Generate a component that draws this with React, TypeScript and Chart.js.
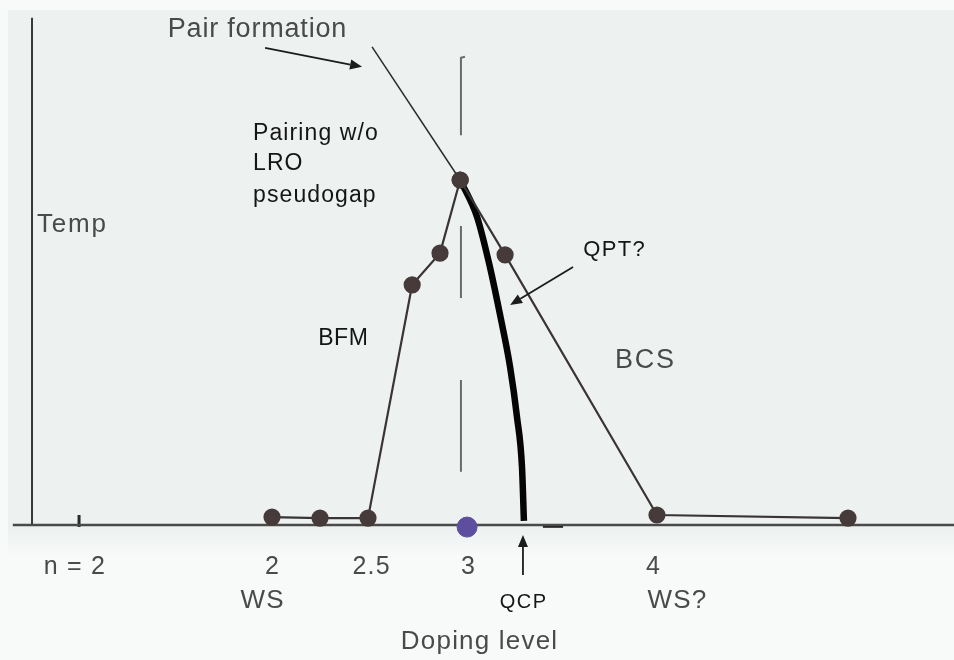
import React, { useEffect, useRef } from "react";
import { Chart, registerables } from "chart.js";

Chart.register(...registerables);

// ---- data (doping level on x, temperature in arbitrary units on y, peak = 100) ----
const leftBranchX = [2.0, 2.25, 2.5, 2.73, 2.875, 2.98];
const leftBranchT = [2.3, 2.0, 2.0, 69.6, 78.8, 100];
const rightBranchX = [2.98, 3.214, 4.005, 5.0];
const rightBranchT = [100, 78.3, 2.9, 2.0];
const qptX = [2.98, 3.068, 3.135, 3.19, 3.24, 3.276, 3.302, 3.312];
const qptT = [100, 89.3, 74.8, 60.3, 45.8, 31.3, 16.8, 1.2];
const pairLineX = [2.521, 2.98];
const pairLineT = [138.6, 100];
const guideX = [3.005, 2.984];
const guideSegments = [
  [135.7, 135.4, 113.0],
  [86.7, 65.8],
  [42.0, 15.4],
];
const qcpDoping = 3.016;
const baseLineX = [0.65, 5.552];
const tempAxisX = 0.75;
const tempAxisTop = 147;
const nTickX = 0.995;
const nTickT = [2.9, -0.6];
const smallDashX = [3.411, 3.516];

// tick labels under the axis
const tickLabels = ["n = 2", "2", "2.5", "3", "4"];
const tickLabelX = [0.97, 2.0, 2.516, 3.021, 3.984];
const tickLabelT = -14.2;
const subLabels = ["WS", "QCP", "WS?"];
const subLabelX = [1.948, 3.307, 4.109];
const subLabelT = -24.1;

// scale extents (doping / temperature units)
const X_MIN = 0.5833;
const X_MAX = 5.552;
const T_MIN = -39.13;
const T_MAX = 152.17;

const pts = (xs: number[], ys: number[]) => xs.map((x, i) => ({ x, y: ys[i] }));

type Label = { text: string; x: number; t: number; align: CanvasTextAlign; font: string; color: string; ls: number };
const GRAY = "#4a4a4a";
const BLACK = "#151515";
const F = "'Liberation Sans', Arial, sans-serif";
const labels: Label[] = [
  { text: "Pair formation", x: 1.922, t: 141.4, align: "center", font: `27px ${F}`, color: GRAY, ls: 0.8 },
  { text: "Pairing w/o", x: 1.901, t: 111.6, align: "left", font: `23px ${F}`, color: BLACK, ls: 1.1 },
  { text: "LRO", x: 1.901, t: 102.9, align: "left", font: `23px ${F}`, color: BLACK, ls: 1.1 },
  { text: "pseudogap", x: 1.901, t: 93.6, align: "left", font: `23px ${F}`, color: BLACK, ls: 1.1 },
  { text: "Temp", x: 0.776, t: 84.9, align: "left", font: `26px ${F}`, color: GRAY, ls: 1.8 },
  { text: "BFM", x: 2.37, t: 52.2, align: "center", font: `23px ${F}`, color: BLACK, ls: 0.5 },
  { text: "QPT?", x: 3.781, t: 78.0, align: "center", font: `22px ${F}`, color: BLACK, ls: 1.4 },
  { text: "BCS", x: 3.786, t: 45.5, align: "left", font: `27px ${F}`, color: GRAY, ls: 1.8 },
  { text: "Doping level", x: 3.078, t: -35.9, align: "center", font: `26px ${F}`, color: GRAY, ls: 1.2 },
];

// arrows: [fromX, fromT, toX, toT]
const arrows = [
  [1.964, 138.3, 2.469, 132.8],
  [3.568, 74.8, 3.24, 63.8],
  [3.307, -14.5, 3.307, -2.9],
];

const annotationPlugin = {
  id: "annotations",
  beforeDraw(chart: any) {
    const { ctx, width, height } = chart;
    ctx.save();
    ctx.fillStyle = "#f8f9f9";
    ctx.fillRect(0, 0, width, height);
    const g = ctx.createLinearGradient(0, 530, 0, 555);
    g.addColorStop(0, "#edf2f1");
    g.addColorStop(1, "#f8f9f9");
    ctx.fillStyle = "#edf2f1";
    ctx.fillRect(8, 10, width - 8, 522);
    ctx.fillStyle = g;
    ctx.fillRect(8, 530, width - 8, 25);
    ctx.restore();
  },
  afterDatasetsDraw(chart: any) {
    const { ctx } = chart;
    const xs = chart.scales.x;
    const ys = chart.scales.y;
    ctx.save();
    // arrows
    ctx.strokeStyle = "#1c1c1c";
    ctx.fillStyle = "#1c1c1c";
    ctx.lineWidth = 1.8;
    arrows.forEach(([x0, t0, x1, t1]) => {
      const px0 = xs.getPixelForValue(x0);
      const py0 = ys.getPixelForValue(t0);
      const px1 = xs.getPixelForValue(x1);
      const py1 = ys.getPixelForValue(t1);
      const ang = Math.atan2(py1 - py0, px1 - px0);
      const L = 12;
      const W = 5;
      const bx = px1 - L * Math.cos(ang);
      const by = py1 - L * Math.sin(ang);
      ctx.beginPath();
      ctx.moveTo(px0, py0);
      ctx.lineTo(bx, by);
      ctx.stroke();
      ctx.beginPath();
      ctx.moveTo(px1, py1);
      ctx.lineTo(bx + W * Math.sin(ang), by - W * Math.cos(ang));
      ctx.lineTo(bx - W * Math.sin(ang), by + W * Math.cos(ang));
      ctx.closePath();
      ctx.fill();
    });
    // text
    ctx.textBaseline = "alphabetic";
    const draw = (text: string, px: number, py: number, align: CanvasTextAlign, ls: number) => {
      (ctx as any).letterSpacing = `${ls}px`;
      ctx.textAlign = align;
      const off = align === "center" ? ls / 2 : 0;
      ctx.fillText(text, px + off, py);
    };
    labels.forEach((l) => {
      ctx.font = l.font;
      ctx.fillStyle = l.color;
      draw(l.text, xs.getPixelForValue(l.x), ys.getPixelForValue(l.t), l.align, l.ls);
    });
    ctx.font = `25px ${F}`;
    ctx.fillStyle = GRAY;
    tickLabels.forEach((t, i) => {
      draw(t, xs.getPixelForValue(tickLabelX[i]), ys.getPixelForValue(tickLabelT), "center", 1.2);
    });
    subLabels.forEach((t, i) => {
      const isQcp = t === "QCP";
      ctx.font = isQcp ? `20px ${F}` : `26px ${F}`;
      ctx.fillStyle = isQcp ? BLACK : GRAY;
      draw(t, xs.getPixelForValue(subLabelX[i]), ys.getPixelForValue(subLabelT), "center", isQcp ? 1.5 : 1.2);
    });
    (ctx as any).letterSpacing = "0px";
    ctx.restore();
  },
};

const LINE = "#3b3434";
const MARK = "#463a3a";

export default function App() {
  const ref = useRef<HTMLCanvasElement | null>(null);
  useEffect(() => {
    document.body.style.margin = "0";
    const canvas = ref.current;
    if (!canvas) return;
    const lineDs = (data: any[], color: string, width: number, extra: any = {}) => ({
      data,
      borderColor: color,
      backgroundColor: color,
      borderWidth: width,
      pointRadius: 0,
      showLine: true,
      fill: false,
      tension: 0,
      clip: false,
      ...extra,
    });
    const datasets: any[] = [
      lineDs(pts(leftBranchX, leftBranchT), LINE, 2.2, { pointRadius: 7.5, pointBackgroundColor: MARK, pointBorderColor: MARK, order: 1 }),
      lineDs(pts(rightBranchX, rightBranchT), LINE, 2.2, { pointRadius: 7.5, pointBackgroundColor: MARK, pointBorderColor: MARK, order: 1 }),
      lineDs(pts(qptX, qptT), "#050505", 6.5, { cubicInterpolationMode: "monotone", order: 2 }),
      lineDs(pts(pairLineX, pairLineT), "#2a2a2a", 1.5, { order: 3 }),
      lineDs(
        guideSegments[0].map((t, i) => ({ x: i === 0 ? guideX[0] : guideX[1], y: t })),
        "#6a6a6a",
        2,
        { order: 4 }
      ),
      lineDs(guideSegments[1].map((t) => ({ x: guideX[1], y: t })), "#6a6a6a", 2, { order: 4 }),
      lineDs(guideSegments[2].map((t) => ({ x: guideX[1], y: t })), "#6a6a6a", 2, { order: 4 }),
      lineDs(pts(baseLineX, [0, 0]), "#4a4a4a", 2.5, { order: 5 }),
      lineDs(pts([tempAxisX, tempAxisX], [0, tempAxisTop]), "#3a3a3a", 2, { order: 5 }),
      lineDs(pts([nTickX, nTickX], nTickT), "#2a2a2a", 3, { order: 5 }),
      lineDs(pts(smallDashX, [-0.3, -0.3]), "#1a1a1a", 3.5, { order: 5 }),
      {
        data: [{ x: qcpDoping, y: -0.6 }],
        showLine: false,
        pointRadius: 10,
        pointBackgroundColor: "#5e4ea0",
        pointBorderColor: "#5e4ea0",
        clip: false,
        order: 0,
      },
    ];
    const chart = new Chart(canvas, {
      type: "scatter",
      data: { datasets },
      options: {
        animation: false,
        responsive: true,
        maintainAspectRatio: false,
        layout: { padding: 0, autoPadding: false },
        plugins: { legend: { display: false }, tooltip: { enabled: false } },
        scales: {
          x: { type: "linear", min: X_MIN, max: X_MAX, display: false },
          y: { type: "linear", min: T_MIN, max: T_MAX, display: false },
        },
      },
      plugins: [annotationPlugin],
    });
    return () => chart.destroy();
  }, []);
  return (
    <div style={{ width: 954, height: 660, position: "relative" }}>
      <canvas ref={ref} />
    </div>
  );
}
